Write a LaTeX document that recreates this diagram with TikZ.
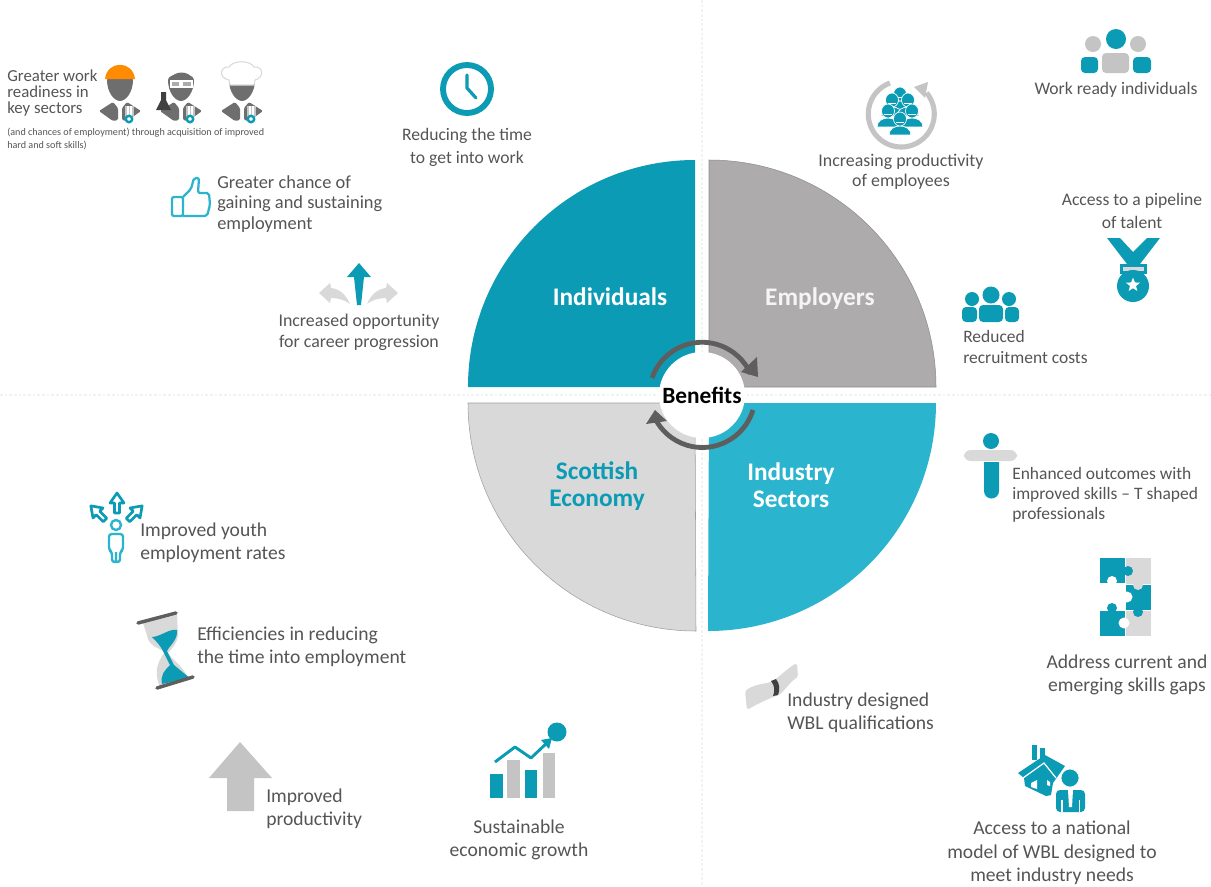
\documentclass[tikz,border=0pt]{standalone}
\usepackage{fontspec}
\setmainfont{Carlito}
\usetikzlibrary{shapes.geometric}
\definecolor{teal1}{HTML}{0C9BB5}
\definecolor{teal2}{HTML}{2BB4CD}
\definecolor{gray1}{HTML}{ADABAC}
\definecolor{gray2}{HTML}{D9D9D9}
\definecolor{gray3}{HTML}{C4C4C4}
\definecolor{wgray}{HTML}{6E6E6E}
\definecolor{txt}{HTML}{555555}
\definecolor{arc1}{HTML}{5E5E5E}
\definecolor{faint}{HTML}{EEF3F3}
\def\pxu{0.75pt}
\tikzset{
  lbla/.style={font=\fontsize{13.1}{15.2}\selectfont,text=txt,inner sep=0pt,align=left},
  lblb/.style={font=\fontsize{13.2}{17.3}\selectfont,text=txt,inner sep=0pt,align=left},
  lblc/.style={lblb,align=center},
  lbld/.style={lbla,align=center},
  big/.style={font=\fontsize{14.7}{17.6}\selectfont,text=txt,inner sep=0pt,align=left},
  bigc/.style={big,align=center},
  small/.style={font=\fontsize{7.6}{9.8}\selectfont,text=txt,inner sep=0pt,align=left},
  tight/.style={font=\fontsize{12.6}{11.8}\selectfont,text=txt,inner sep=0pt,align=left},
  quad/.style={font=\fontsize{19}{20.3}\bfseries\selectfont,inner sep=0pt,align=center},
  dots/.style={draw=faint,line width=1.2pt,dash pattern=on 2pt off 1.5pt},
}
% worker figure: #1 = centre x
\newcommand{\workerfig}[1]{%
\begin{scope}[shift={(#1,0)}]
\fill[wgray] (-13,80) .. controls (-13,72) and (13,72) .. (13,80) .. controls (13,92) and (6,101) .. (0,101) .. controls (-6,101) and (-13,92) .. (-13,80) -- cycle;
\fill[wgray,rounded corners=1pt] (-21,111) -- (-7,102) -- (-2,108) -- (-2,120) -- (-7,121) -- cycle;
\fill[wgray,rounded corners=1pt] (21,111) -- (7,102) -- (2,108) -- (2,120) -- (7,121) -- cycle;
\fill[white] (5,106) rectangle (14,118);
\draw[gray3,line width=0.8pt] (6,106) -- (6,117) (9.5,106) -- (9.5,117) (13,106) -- (13,117);
\draw[teal1,line width=1.8pt,fill=white] (9,119) circle[radius=3.2*\pxu];
\end{scope}}
% small person for cluster
\newcommand{\minip}[2]{%
\fill[teal1,draw=white,line width=0.5pt] (#1-11,#2+22) .. controls (#1-11,#2+10) and (#1+11,#2+10) .. (#1+11,#2+22) -- cycle;
\fill[teal1,draw=white,line width=0.5pt] (#1,#2+6) ellipse[x radius=6.5*\pxu,y radius=7*\pxu];
\fill[white] (#1-4,#2+9) rectangle (#1+4,#2+10);}
% outlined arrow pointing up from (0,0) ; #1 pos #2 rotation
\newcommand{\outarrow}[2]{%
\begin{scope}[shift={(#1)},rotate=#2]
\draw[teal1,line width=2pt,fill=white,line join=round] (-2.5,0) -- (-2.5,-10) -- (-7,-10) -- (0,-20) -- (7,-10) -- (2.5,-10) -- (2.5,0) -- cycle;
\end{scope}}
\begin{document}
\begin{tikzpicture}[x=0.75pt,y=-0.75pt]
\useasboundingbox (0,0) rectangle (1211,886);
\fill[white] (0,0) rectangle (1211,886);
% faint dividers
\draw[dots] (0,395) -- (1211,395);
\draw[dots] (702,0) -- (702,886);
% quadrants
\fill[teal1] (695,387) -- (468,387) arc[start angle=180,end angle=90,radius=227*\pxu] -- cycle;
\fill[gray1,draw=arc1!70,line width=0.4pt] (709,387) -- (709,160) arc[start angle=90,end angle=0,radius=227*\pxu] -- cycle;
\fill[gray2,draw=arc1!60,line width=0.4pt] (695,403) -- (468,403) arc[start angle=180,end angle=270,radius=228*\pxu] -- cycle;
\fill[teal2] (709,403) -- (936,403) arc[start angle=0,end angle=-90,radius=228*\pxu] -- cycle;
% centre
\fill[white] (702,395) circle[radius=43*\pxu];
\draw[arc1,line width=3.6pt] (652,378) arc[start angle=161,end angle=24,radius=53*\pxu];
\fill[arc1] (757,357) -- (758,377) -- (741,372) -- cycle;
\draw[arc1,line width=3.6pt] (753,410) arc[start angle=-17,end angle=-155,radius=53*\pxu];
\fill[arc1] (646,424) -- (655,410) -- (667,421) -- cycle;
\node[font=\fontsize{17.5}{20}\bfseries\selectfont,text=black,inner sep=0pt] (benefits) at (702,395) {Benefits};
\node[quad,text=white] (individuals) at (610,297) {Individuals};
\node[quad,text=white!92!gray] (employers) at (820,299) {Employers};
\node[quad,text=teal1] (scottish) at (597,486) {Scottish\\Economy};
\node[quad,text=white] (industry) at (791,485) {Industry\\Sectors};
% workers
\workerfig{120}\workerfig{181}\workerfig{242}
\fill[orange!90!yellow] (105,79) .. controls (107,60) and (133,60) .. (135,79) -- cycle;
\fill[wgray] (170,84) -- (193,84) -- (193,80) .. controls (190,70) and (173,70) .. (170,80) -- cycle;
\draw[white,line width=1.2pt,fill=gray1] (171,81) rectangle (180,87);
\draw[white,line width=1.2pt,fill=gray1] (182,81) rectangle (192,87);
\fill[black!75] (161,92) -- (166,92) -- (166,100) -- (171,110) -- (156,110) -- (161,100) -- cycle;
\draw[gray2,line width=0.8pt,fill=white] (230,85) -- (229,80) .. controls (218,78) and (220,66) .. (229,67) .. controls (233,60) and (250,60) .. (254,67) .. controls (264,66) and (264,78) .. (255,80) -- (254,85) -- cycle;
\node[tight,anchor=north west] (ready) at (7,70) {Greater work\\readiness in\\key sectors};
\node[small,anchor=north west] (readysmall) at (7,128) {(and chances of employment) through acquisition of improved\\hard and soft skills)};
% clock
\draw[teal1,line width=4.4pt] (467,89) circle[radius=24*\pxu];
\draw[teal1,line width=2.4pt,line cap=round,line join=round] (467,75) -- (467,88) -- (476,98);
\node[lblc] (reducing) at (467,147) {Reducing the time\\to get into work};
% thumb
\draw[teal2,line width=1.7pt,rounded corners=1.5pt,fill=white] (172,197) rectangle (183,216);
\draw[teal2,line width=1.7pt,line join=round,rounded corners=1.5pt] (183,197) -- (191,189) -- (194,178) -- (199,178) -- (198,193) -- (209,193) -- (210,205) -- (207,216) -- (183,216);
\node[font=\fontsize{13.8}{15.2}\selectfont,text=txt,inner sep=0pt,align=left,anchor=west] (chance) at (217,204) {Greater chance of\\gaining and sustaining\\employment};
% career arrows
\fill[gray2] (319,293) -- (330,283) -- (331,288) .. controls (340,289) and (346,295) .. (350,304) .. controls (345,300) and (338,298) .. (331,298) -- (330,303) -- cycle;
\fill[gray2] (398,293) -- (387,283) -- (386,288) .. controls (377,289) and (371,295) .. (367,304) .. controls (372,300) and (379,298) .. (386,298) -- (387,303) -- cycle;
\fill[teal1] (359,263) -- (371,277) -- (364,277) -- (361,305) -- (357,305) -- (354,277) -- (347,277) -- cycle;
\node[font=\fontsize{13.4}{15.8}\selectfont,text=txt,inner sep=0pt,align=center] (career) at (359,332) {Increased opportunity\\for career progression};
% work ready
\fill[teal1] (1116,39) circle[radius=10*\pxu];
\fill[gray3] (1093,44) circle[radius=8*\pxu];
\fill[gray3] (1138,44) circle[radius=8*\pxu];
\fill[teal1,rounded corners=3pt] (1081,73) -- (1081,57) -- (1098,57) -- (1098,73) -- cycle;
\fill[gray3,rounded corners=3pt] (1102,73) -- (1102,53) -- (1129,53) -- (1129,73) -- cycle;
\fill[teal1,rounded corners=3pt] (1133,73) -- (1133,57) -- (1151,57) -- (1151,73) -- cycle;
\node[lblc] (workready) at (1116,90) {Work ready individuals};
% productivity of employees
\draw[gray3,line width=3.8pt] (890,83) arc[start angle=110,end angle=400,radius=33*\pxu];
\fill[gray3] (928,82) -- (914,87) -- (925,98) -- cycle;
\minip{900}{88}\minip{892}{94}\minip{908}{94}\minip{888}{105}\minip{912}{105}\minip{900}{113}
\node[lbld,font=\fontsize{13.4}{15.2}\selectfont] (increasing) at (901,172) {Increasing productivity\\of employees};
% pipeline
\node[lblc] (pipeline) at (1132,211) {Access to a pipeline\\of talent};
\fill[teal1] (1107,238) -- (1120,238) -- (1133,252) -- (1147,238) -- (1160,238) -- (1140,264) -- (1127,264) -- cycle;
\fill[teal1] (1120,264) rectangle (1147,274);
\fill[gray2] (1123,267) rectangle (1144,271);
\fill[teal1] (1133,286) circle[radius=16*\pxu];
\node[star,star points=5,star point ratio=2.3,fill=white,minimum size=11pt,inner sep=0pt] (medalstar) at (1133,285) {};
% reduced cost
\fill[teal1] (972,299) circle[radius=7*\pxu];
\fill[teal1] (991,295) circle[radius=8.5*\pxu];
\fill[teal1] (1009,299) circle[radius=7*\pxu];
\fill[teal1,rounded corners=3pt] (962,322) -- (962,307) -- (977,307) -- (977,322) -- cycle;
\fill[teal1,rounded corners=3pt] (979,322) -- (979,305) -- (1003,305) -- (1003,322) -- cycle;
\fill[teal1,rounded corners=3pt] (1005,322) -- (1005,307) -- (1019,307) -- (1019,322) -- cycle;
\node[lbla,anchor=west] (reduced) at (963,347) {Reduced\\recruitment costs};
% T shaped
\fill[teal1] (991,441) circle[radius=8*\pxu];
\fill[gray2] (964,450) [rounded corners=5pt] rectangle (1017,461);
\fill[teal1] (984,462) -- (999,462) -- (999,491) arc[start angle=0,end angle=-180,radius=7.5*\pxu] -- cycle;
\node[lbla,anchor=west] (tshaped) at (1012,495) {Enhanced outcomes with\\improved skills -- T shaped\\professionals};
% puzzle
\fill[teal1] (1100,558) rectangle (1125,583);
\fill[gray2] (1126,558) rectangle (1151,584);
\fill[teal1] (1126,585) rectangle (1151,610);
\fill[teal1] (1100,611) rectangle (1125,636);
\fill[gray2] (1126,611) rectangle (1151,636);
\fill[teal1] (1128,571) circle[radius=5*\pxu];
\fill[white] (1112,581) circle[radius=5*\pxu];
\fill[gray2] (1138,585) circle[radius=5*\pxu];
\fill[white] (1127,597) circle[radius=5.5*\pxu];
\fill[teal1] (1138,612) circle[radius=5*\pxu];
\fill[teal1] (1112,608) circle[radius=5*\pxu];
\fill[white] (1124,623) circle[radius=5.5*\pxu];
\node[bigc] (gaps) at (1127,675) {Address current and\\emerging skills gaps};
% scroll
\fill[gray2,rounded corners=2pt] (745,691) .. controls (755,684) and (765,684) .. (773,681) .. controls (780,676) and (788,668) .. (797,663) -- (798,677) .. controls (790,682) and (785,690) .. (779,695) .. controls (770,698) and (757,704) .. (747,710) -- cycle;
\fill[black!75] (771,681) -- (776,679) .. controls (780,684) and (780,690) .. (778,695) -- (773,696) .. controls (775,691) and (775,686) .. (771,681) -- cycle;
\node[big,anchor=west] (wblq) at (787,713) {Industry designed\\WBL qualifications};
% factory
\fill[teal1] (1032,745) rectangle (1037,760);
\fill[teal1] (1040,748) rectangle (1045,760);
\fill[teal1] (1018,773) -- (1045,755) -- (1065,766) -- (1053,783) -- (1051,795) -- (1046,796) -- (1025,786) -- (1024,778) -- cycle;
\draw[white,line width=0.9pt] (1023,778) -- (1044,763) -- (1056,778);
\fill[white] (1031,783) -- (1037,780) -- (1037,789) -- (1031,787) -- cycle;
\fill[white] (1047,780) -- (1050,782) -- (1050,786) -- (1047,785) -- cycle;
\fill[teal1,draw=white,line width=0.5pt] (1070,778) circle[radius=9*\pxu];
\fill[teal1,rounded corners=3pt] (1056,812) -- (1056,790) -- (1085,790) -- (1085,812) -- cycle;
\fill[white] (1068,790) -- (1073,790) -- (1072,807) -- (1069,807) -- cycle;
\fill[white] (1061,800) rectangle (1062.5,812);
\fill[white] (1078.5,800) rectangle (1080,812);
\node[bigc] (national) at (1052,853) {Access to a national\\model of WBL designed to\\meet industry needs};
% youth
\outarrow{117,513}{0}\outarrow{105,520}{45}\outarrow{128,520}{-45}
\draw[teal2,line width=1.8pt] (116,525) circle[radius=5*\pxu];
\draw[teal2,line width=1.8pt,rounded corners=2pt,line join=round] (112,562) -- (112,552) -- (109,550) -- (109,534) -- (123,534) -- (123,550) -- (120,552) -- (120,562) -- cycle (116,552) -- (116,562);
\node[big,anchor=west] (youth) at (140,543) {Improved youth\\employment rates};
% hourglass
\fill[gray2] (143,623) -- (177,615) -- (178,635) .. controls (177,645) and (170,650) .. (168,653) .. controls (172,660) and (186,668) .. (188,680) -- (160,687) .. controls (155,675) and (155,665) .. (165,652) .. controls (158,648) and (148,645) .. (147,635) -- cycle;
\fill[teal1] (152,637) .. controls (160,637) and (170,628) .. (177,630) .. controls (178,640) and (170,645) .. (167,651) -- (174,665) .. controls (180,670) and (186,675) .. (190,678) -- (162,684) .. controls (160,675) and (165,670) .. (170,665) -- (163,651) .. controls (160,645) and (155,640) .. (152,637) -- cycle;
\draw[arc1,line width=2.6pt,line cap=round] (138,623) -- (176,613);
\draw[arc1,line width=2.6pt,line cap=round] (157,688) -- (193,677);
\node[big,anchor=west] (efficiencies) at (197,647) {Efficiencies in reducing\\the time into employment};
% up arrow
\fill[gray3] (240,742) -- (272,778) -- (254,778) -- (254,811) -- (227,811) -- (227,778) -- (209,778) -- cycle;
\node[big,anchor=west] (improved) at (266,809) {Improved\\productivity};
% growth
\fill[teal1] (557,732) circle[radius=9.5*\pxu];
\fill[teal1] (490,774) rectangle (503,798);
\fill[gray3] (507,760) rectangle (520,798);
\fill[teal1] (525,770) rectangle (537,798);
\fill[gray3] (543,753) rectangle (555,798);
\draw[teal1,line width=2.2pt,line join=round] (495,762) -- (515,747) -- (531,758) -- (549,741);
\fill[teal1] (552,738) -- (541,740) -- (549,749) -- cycle;
\node[bigc] (growth) at (519,840) {Sustainable\\economic growth};
\end{tikzpicture}
\end{document}
